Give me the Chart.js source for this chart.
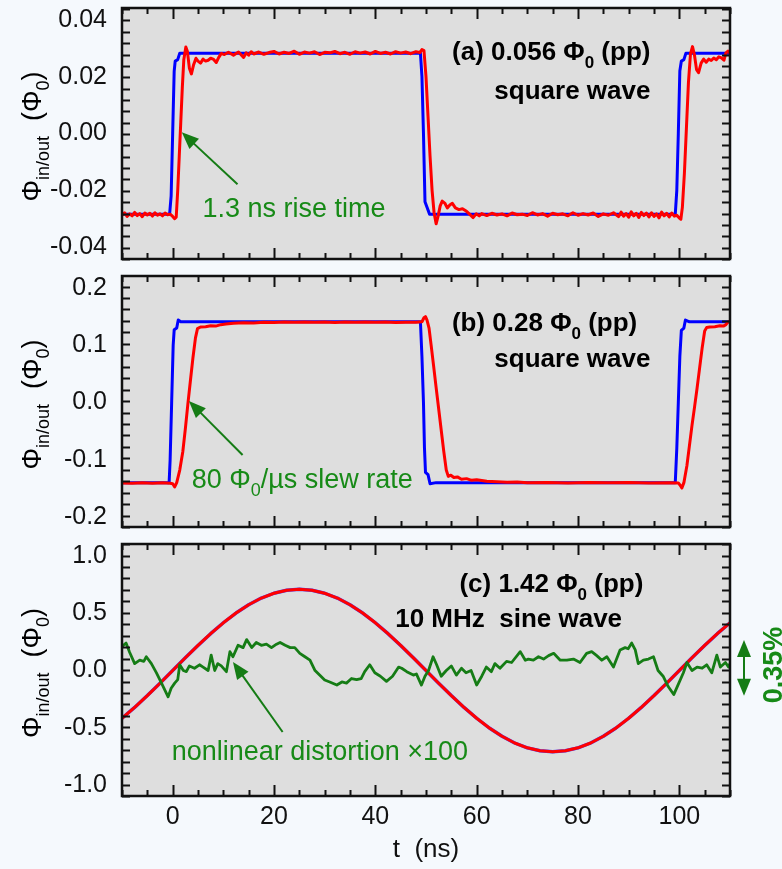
<!DOCTYPE html>
<html>
<head>
<meta charset="utf-8">
<script src="https://cdn.jsdelivr.net/npm/chart.js@4.4.1/dist/chart.umd.min.js"></script>
<style>
  body { margin: 0; background: #f5f9fd; width: 782px; height: 869px; overflow: hidden; }
  .panel { position: absolute; left: 0; }
</style>
</head>
<body>
<div class="panel" style="top:0"><canvas id="ca" width="782" height="268"></canvas></div>
<div class="panel" style="top:268px"><canvas id="cb" width="782" height="267"></canvas></div>
<div class="panel" style="top:535px"><canvas id="cc" width="782" height="334"></canvas></div>
<script>
// shared x axis (time, ns)
const xTicks = [0, 20, 40, 60, 80, 100];

// ---- panel (a): 0.056 Phi0 pp square wave, [t ns, flux Phi0]
const yTicksA = [-0.04, -0.02, 0.00, 0.02, 0.04];
const blueA = [
  [-10, -0.0284], [-0.6, -0.0284], [-0.3, -0.022], [0.0, 0.0], [0.3, 0.022], [0.5, 0.0255],
  [1.0, 0.026], [1.4, 0.0283], [10, 0.0283], [48.9, 0.0283], [49.2, 0.020], [49.5, 0.0],
  [49.8, -0.024], [50.2, -0.026], [50.7, -0.0284], [60, -0.0284], [99.2, -0.0284], [99.5, -0.02],
  [99.8, 0.0], [100.1, 0.022], [100.4, 0.0255], [100.9, 0.026], [101.3, 0.0283], [110, 0.0283]
];
const redA = [
  [-10, -0.0288], [-9.5, -0.0279], [-9, -0.0292], [-8.5, -0.0283], [-8, -0.0290], [-7.5, -0.0278],
  [-7, -0.0289], [-6.5, -0.0282], [-6, -0.0293], [-5.5, -0.0280], [-5, -0.0287], [-4.5, -0.0281],
  [-4, -0.0291], [-3.5, -0.0279], [-3, -0.0288], [-2.5, -0.0283], [-2, -0.0290], [-1.5, -0.0280],
  [-1, -0.0286], [-0.5, -0.0284], [0, -0.0292], [0.4, -0.0300], [0.7, -0.0295], [1.0, -0.020],
  [1.3, -0.008], [1.6, 0.004], [1.9, 0.016], [2.2, 0.026], [2.6, 0.0305], [2.9, 0.029],
  [3.3, 0.023], [3.7, 0.021], [4.1, 0.024], [4.6, 0.0265], [5.0, 0.0255], [5.5, 0.0248],
  [6.0, 0.0262], [6.5, 0.0255], [7.0, 0.0258], [7.5, 0.0265], [8.0, 0.0262], [8.6, 0.0250],
  [9.1, 0.0268], [9.6, 0.0282], [10.2, 0.0278], [11, 0.0286], [12, 0.0276], [13, 0.0287],
  [14, 0.0268], [14.5, 0.0284], [15, 0.0276], [15.5, 0.0288], [16, 0.0280], [17, 0.0287],
  [18, 0.0279], [19, 0.0285], [20, 0.0289], [21, 0.0280], [22, 0.0286], [23, 0.0282],
  [24, 0.0290], [25, 0.0279], [26, 0.0287], [27, 0.0283], [28, 0.0288], [29, 0.0278],
  [30, 0.0286], [31, 0.0284], [32, 0.0289], [33, 0.0281], [34, 0.0286], [35, 0.0279],
  [36, 0.0288], [37, 0.0283], [38, 0.0287], [39, 0.0280], [40, 0.0289], [41, 0.0282],
  [42, 0.0286], [43, 0.0280], [44, 0.0288], [45, 0.0283], [46, 0.0287], [47, 0.0281],
  [48, 0.0288], [48.8, 0.0285], [49.2, 0.0296], [49.6, 0.0292], [50.0, 0.020], [50.4, 0.006],
  [50.8, -0.008], [51.2, -0.020], [51.6, -0.028], [52.0, -0.0318], [52.4, -0.029], [52.8, -0.0255],
  [53.2, -0.0238], [53.7, -0.0245], [54.2, -0.0262], [54.7, -0.0252], [55.2, -0.0246], [55.8, -0.0262],
  [56.5, -0.0268], [57.2, -0.0265], [58, -0.0274], [58.7, -0.0286], [59.3, -0.0296], [59.9, -0.0283],
  [60.5, -0.0290], [61, -0.0282], [62, -0.0289], [63, -0.0281], [64, -0.0287], [65, -0.0283],
  [66, -0.0290], [67, -0.0280], [68, -0.0286], [69, -0.0284], [70, -0.0289], [71, -0.0279],
  [72, -0.0287], [73, -0.0282], [74, -0.0291], [75, -0.0281], [76, -0.0286], [77, -0.0283],
  [78, -0.0290], [79, -0.0279], [80, -0.0288], [81, -0.0282], [82, -0.0287], [83, -0.0280],
  [84, -0.0292], [85, -0.0283], [86, -0.0288], [87, -0.0279], [88, -0.0293], [88.5, -0.0277],
  [89, -0.0291], [89.5, -0.0282], [90, -0.0295], [90.5, -0.0276], [91, -0.0290], [91.5, -0.0281],
  [92, -0.0296], [92.5, -0.0278], [93, -0.0289], [93.5, -0.0280], [94, -0.0294], [94.5, -0.0279],
  [95, -0.0292], [95.5, -0.0283], [96, -0.0297], [96.5, -0.0277], [97, -0.0290], [97.5, -0.0281],
  [98, -0.0294], [98.5, -0.0280], [99, -0.0291], [99.5, -0.0288], [100.0, -0.0298], [100.3, -0.0302],
  [100.6, -0.026], [101.0, -0.014], [101.4, 0.002], [101.8, 0.018], [102.2, 0.028], [102.6, 0.0306],
  [103.0, 0.0275], [103.4, 0.0225], [103.8, 0.0214], [104.3, 0.0248], [104.8, 0.0262], [105.3, 0.0251],
  [105.8, 0.0262], [106.3, 0.0257], [106.8, 0.0266], [107.3, 0.0260], [107.8, 0.0270], [108.3, 0.0266],
  [108.8, 0.0258], [109.2, 0.0284], [109.6, 0.0290], [110, 0.0283]
];

// ---- panel (b): 0.28 Phi0 pp square wave
const yTicksB = [-0.2, -0.1, 0.0, 0.1, 0.2];
const blueB = [
  [-10, -0.140], [-0.7, -0.140], [-0.5, -0.10], [-0.2, 0.0], [0.1, 0.10], [0.3, 0.127],
  [0.8, 0.130], [1.1, 0.144], [1.6, 0.141], [10, 0.141], [48.9, 0.141], [49.2, 0.08],
  [49.5, 0.0], [49.7, -0.08], [49.9, -0.122], [50.4, -0.126], [50.8, -0.142], [52, -0.140],
  [99.2, -0.140], [99.5, -0.08], [99.8, 0.0], [100.1, 0.08], [100.4, 0.126], [100.9, 0.130],
  [101.2, 0.144], [102, 0.141], [110, 0.141]
];
const redB = [
  [-10, -0.1405], [-8, -0.1412], [-6, -0.1400], [-4, -0.1410], [-2, -0.1403], [-0.5, -0.1410],
  [0.0, -0.1420], [0.4, -0.1475], [0.8, -0.1400], [1.4, -0.1180], [2.0, -0.0860], [2.5, -0.0460],
  [3.0, -0.0030], [3.5, 0.0380], [4.0, 0.0780], [4.5, 0.1130], [4.9, 0.1290], [5.5, 0.1320],
  [6.5, 0.1325], [7.5, 0.1340], [8.5, 0.1335], [9.5, 0.1360], [10.5, 0.1370], [12, 0.1385],
  [14, 0.1395], [16, 0.1390], [18, 0.1402], [20, 0.1398], [22, 0.1405], [24, 0.1400],
  [26, 0.1408], [28, 0.1400], [30, 0.1405], [32, 0.1398], [34, 0.1406], [36, 0.1401],
  [38, 0.1407], [40, 0.1400], [42, 0.1405], [44, 0.1399], [46, 0.1404], [48, 0.1402],
  [49.2, 0.1410], [49.6, 0.1480], [49.9, 0.1500], [50.2, 0.1440], [50.6, 0.1300], [51.0, 0.1010],
  [51.5, 0.0640], [52.0, 0.0260], [52.5, -0.0110], [53.0, -0.0480], [53.5, -0.0850], [54.0, -0.1180],
  [54.4, -0.1290], [54.9, -0.1270], [55.5, -0.1310], [56.2, -0.1300], [57, -0.1340], [58, -0.1330],
  [59, -0.1360], [60, -0.1350], [62, -0.1375], [64, -0.1385], [66, -0.1395], [68, -0.1390],
  [70, -0.1402], [74, -0.1398], [78, -0.1405], [82, -0.1399], [86, -0.1404], [90, -0.1398],
  [94, -0.1405], [98, -0.1400], [99.8, -0.1405], [100.2, -0.1450], [100.5, -0.1495], [100.9, -0.1400],
  [101.5, -0.1100], [102.0, -0.0750], [102.5, -0.0400], [103.0, -0.0080], [103.5, 0.0250], [104.0, 0.0600],
  [104.5, 0.0950], [105.0, 0.1250], [105.4, 0.1310], [106, 0.1320], [107, 0.1325], [108, 0.1340],
  [108.7, 0.1335], [109.2, 0.1360], [109.6, 0.1410], [110, 0.1405]
];

// ---- panel (c): 1.42 Phi0 pp, 10 MHz sine; distortion x100
const yTicksC = [-1.0, -0.5, 0.0, 0.5, 1.0];
const sineC = [
  [-10, -0.417], [-7.5, -0.322], [-5, -0.219], [-2.5, -0.111], [0, 0.0], [2.5, 0.111],
  [5, 0.219], [7.5, 0.322], [10, 0.417], [12.5, 0.502], [15, 0.574], [17.5, 0.633],
  [20, 0.675], [22.5, 0.701], [25, 0.710], [27.5, 0.701], [30, 0.675], [32.5, 0.633],
  [35, 0.574], [37.5, 0.502], [40, 0.417], [42.5, 0.322], [45, 0.219], [47.5, 0.111],
  [50, 0.0], [52.5, -0.111], [55, -0.219], [57.5, -0.322], [60, -0.417], [62.5, -0.502],
  [65, -0.574], [67.5, -0.633], [70, -0.675], [72.5, -0.701], [75, -0.710], [77.5, -0.701],
  [80, -0.675], [82.5, -0.633], [85, -0.574], [87.5, -0.502], [90, -0.417], [92.5, -0.322],
  [95, -0.219], [97.5, -0.111], [100, 0.0], [102.5, 0.111], [105, 0.219], [107.5, 0.322],
  [110, 0.417]
];
const distortC = [
  [-10, 0.21], [-9.2, 0.24], [-8.5, 0.16], [-7.5, 0.06], [-6.5, 0.09], [-5.7, 0.08],
  [-5.2, 0.12], [-4.2, 0.06], [-3.2, -0.02], [-2.2, -0.11], [-0.9, -0.23], [-0.3, -0.155],
  [0.4, -0.11], [1.0, -0.08], [1.4, 0.05], [2.1, 0.0], [2.7, -0.01], [3.3, 0.04],
  [4.3, 0.02], [5.3, 0.05], [6.0, 0.03], [7.0, 0.0], [7.6, 0.135], [8.3, 0.0],
  [8.9, 0.06], [9.6, 0.04], [10.6, -0.01], [11.3, 0.165], [11.9, 0.12], [12.9, 0.22],
  [13.9, 0.20], [14.6, 0.27], [15.6, 0.20], [16.5, 0.245], [17.5, 0.22], [18.5, 0.23],
  [19.5, 0.20], [20.5, 0.23], [21.2, 0.245], [22.2, 0.22], [23.2, 0.20], [24.1, 0.20],
  [25.1, 0.15], [26.1, 0.12], [27.1, 0.09], [28.1, 0.0], [29.0, -0.04], [30.0, -0.083],
  [31.0, -0.10], [32.4, -0.127], [33.4, -0.10], [34.3, -0.11], [35.3, -0.07], [36.3, -0.08],
  [37.2, -0.07], [37.9, -0.01], [38.9, 0.05], [39.9, -0.02], [41.0, -0.05], [42.2, -0.095],
  [43.4, -0.05], [44.6, 0.03], [45.2, 0.02], [46.2, -0.01], [47.5, -0.04], [48.1, -0.03],
  [49.1, -0.127], [49.8, -0.05], [50.5, 0.0], [51.4, 0.12], [52.1, 0.05], [53.0, -0.05],
  [54.0, 0.0], [55.0, 0.04], [56.0, -0.04], [57.0, 0.02], [57.9, -0.02], [58.9, 0.0],
  [60.0, -0.127], [61.0, -0.05], [61.9, 0.03], [62.9, -0.01], [63.6, 0.06], [64.6, 0.02],
  [65.9, 0.08], [66.9, 0.07], [68.6, 0.165], [69.6, 0.09], [70.2, 0.10], [71.2, 0.09],
  [72.2, 0.12], [73.2, 0.10], [74.2, 0.13], [75.2, 0.15], [76.5, 0.09], [77.8, 0.09],
  [79.1, 0.10], [80.4, 0.07], [81.7, 0.15], [82.7, 0.165], [83.7, 0.13], [84.7, 0.09],
  [85.7, 0.12], [87.0, 0.03], [88.3, 0.18], [89.3, 0.20], [89.9, 0.19], [90.6, 0.24],
  [91.3, 0.18], [91.9, 0.06], [92.9, 0.09], [93.9, 0.10], [94.9, 0.12], [95.8, 0.0],
  [96.8, -0.05], [97.8, -0.14], [98.9, -0.21], [99.9, -0.11], [100.8, -0.02], [101.5, 0.07],
  [102.5, 0.0], [103.5, 0.03], [104.5, 0.02], [105.4, 0.05], [106.4, -0.02], [107.4, 0.135],
  [108.1, 0.03], [109.1, 0.07], [109.7, 0.03], [110, 0.06]
];

const FONT = '"Liberation Sans", Arial, sans-serif';
const GREEN = '#178a17';
const LINE_GREEN = '#157c15';

const pts = arr => arr.map(([x, y]) => ({ x, y }));

// text with optional subscripts; y is the visual middle of the caps
function richText(ctx, parts, x, y, o) {
  const w8 = o.bold ? 'bold ' : '';
  const sub = Math.round(o.size * 0.65);
  const fontOf = p => w8 + (p.sub ? sub : o.size) + 'px ' + FONT;
  let w = 0;
  parts.forEach(p => { ctx.font = fontOf(p); w += ctx.measureText(p.t).width; });
  let cx = o.align === 'right' ? x - w : o.align === 'center' ? x - w / 2 : x;
  const base = y + o.size * 0.36;
  ctx.fillStyle = o.color || '#000';
  ctx.textAlign = 'left';
  ctx.textBaseline = 'alphabetic';
  parts.forEach(p => {
    ctx.font = fontOf(p);
    ctx.fillText(p.t, cx, p.sub ? base + o.size * 0.3 : base);
    cx += ctx.measureText(p.t).width;
  });
}

function arrow(ctx, x1, y1, x2, y2, color) {
  const a = Math.atan2(y2 - y1, x2 - x1), hl = 17, hw = 7;
  ctx.save();
  ctx.strokeStyle = color; ctx.fillStyle = color; ctx.lineWidth = 2;
  ctx.beginPath();
  ctx.moveTo(x1, y1);
  ctx.lineTo(x2 - Math.cos(a) * hl * 0.8, y2 - Math.sin(a) * hl * 0.8);
  ctx.stroke();
  ctx.beginPath();
  ctx.moveTo(x2, y2);
  ctx.lineTo(x2 - Math.cos(a) * hl + Math.sin(a) * hw, y2 - Math.sin(a) * hl - Math.cos(a) * hw);
  ctx.lineTo(x2 - Math.cos(a) * hl - Math.sin(a) * hw, y2 - Math.sin(a) * hl + Math.cos(a) * hw);
  ctx.closePath();
  ctx.fill();
  ctx.restore();
}

function px(chart, t, v) {
  return [chart.scales.x.getPixelForValue(t), chart.scales.y.getPixelForValue(v)];
}

const plotBg = {
  id: 'plotBg',
  beforeDraw(chart) {
    const { ctx, chartArea: a } = chart;
    ctx.save();
    ctx.fillStyle = '#dedede';
    ctx.fillRect(a.left, a.top, a.width, a.height);
    ctx.restore();
  }
};

// inward ticks on all four sides, frame, rotated y title
const frame = {
  id: 'frame',
  afterDraw(chart, args, opts) {
    const { ctx, chartArea: a, scales } = chart;
    ctx.save();
    ctx.strokeStyle = '#111';
    ctx.lineWidth = 2;
    ctx.beginPath();
    for (let t = -10; t <= 110.001; t += 5) {
      const x = Math.round(scales.x.getPixelForValue(t)) + 0.5;
      const L = Math.abs(t % 20) < 0.01 ? 11 : 6;
      ctx.moveTo(x, a.bottom); ctx.lineTo(x, a.bottom - L);
      ctx.moveTo(x, a.top); ctx.lineTo(x, a.top + L);
    }
    const n = Math.round((opts.yMax - opts.yMin) / opts.yMinor);
    for (let i = 0; i <= n; i++) {
      const v = opts.yMin + i * opts.yMinor;
      if (v < scales.y.min || v > scales.y.max) continue;
      const y = Math.round(scales.y.getPixelForValue(v)) + 0.5;
      const major = Math.abs(v / opts.yMajor - Math.round(v / opts.yMajor)) < 1e-6;
      const L = major ? 13 : 8;
      ctx.moveTo(a.left, y); ctx.lineTo(a.left + L, y);
      ctx.moveTo(a.right, y); ctx.lineTo(a.right - L, y);
    }
    ctx.stroke();
    ctx.lineWidth = 2.5;
    ctx.strokeRect(a.left, a.top, a.width, a.height);
    // y axis title
    ctx.translate(31, (a.top + a.bottom) / 2 + 3);
    ctx.rotate(-Math.PI / 2);
    richText(ctx, [{ t: 'Φ' }, { t: 'in/out', sub: true }, { t: '  (Φ' }, { t: '0', sub: true }, { t: ')' }],
      0, 0, { size: 27, align: 'center', color: '#000' });
    ctx.restore();
  }
};

function makePanel(id, datasets, o) {
  return new Chart(document.getElementById(id), {
    type: 'line',
    data: { datasets },
    options: {
      responsive: false,
      maintainAspectRatio: false,
      animation: false,
      events: [],
      layout: { padding: { left: 0, right: 52, top: o.padTop, bottom: o.padBottom } },
      elements: { point: { radius: 0 }, line: { tension: 0, borderJoinStyle: 'round', borderCapStyle: 'round' } },
      plugins: {
        legend: { display: false },
        tooltip: { enabled: false },
        frame: { yMin: o.yMin, yMax: o.yMax, yMinor: o.yMinor, yMajor: o.yMajor }
      },
      scales: {
        x: {
          type: 'linear', min: -10, max: 110,
          display: o.showX,
          grid: { display: false },
          border: { display: false },
          afterBuildTicks: s => { s.ticks = xTicks.map(v => ({ value: v })); },
          ticks: { color: '#111', font: { family: FONT, size: 25 }, padding: -2, maxRotation: 0, autoSkip: false, callback: v => String(v) },
          title: { display: true, text: 't  (ns)', color: '#111', font: { family: FONT, size: 26 }, padding: { top: 2, bottom: 4 } },
          afterFit: s => { s.height = o.showX ? 73 : 0; s.paddingLeft = 0; s.paddingRight = 0; }
        },
        y: {
          type: 'linear', min: o.yMin, max: o.yMax,
          grid: { display: false },
          border: { display: false },
          afterBuildTicks: s => { s.ticks = o.yTicks.map(v => ({ value: v })); },
          ticks: { color: '#111', font: { family: FONT, size: 25 }, padding: 7, autoSkip: false, callback: v => v.toFixed(o.dec) },
          afterFit: s => { s.width = 122; s.paddingTop = 0; s.paddingBottom = 0; }
        }
      }
    },
    plugins: [plotBg, frame, { id: 'notes', afterDraw: o.notes }]
  });
}

const line = (arr, color, w) => ({ data: pts(arr), borderColor: color, borderWidth: w, pointRadius: 0, fill: false });

makePanel('ca', [line(redA, '#ff0000', 3), line(blueA, '#0000ff', 3)], {
  yMin: -0.0442, yMax: 0.0442, yMinor: 0.004, yMajor: 0.02, yTicks: yTicksA, dec: 2,
  padTop: 8, padBottom: 9, showX: false,
  notes(chart) {
    const ctx = chart.ctx;
    let [x, y] = px(chart, 94.3, 0.0291);
    richText(ctx, [{ t: '(a) 0.056 Φ' }, { t: '0', sub: true }, { t: ' (pp)' }], x, y, { size: 26, bold: true, align: 'right' });
    [x, y] = px(chart, 94.3, 0.0154);
    richText(ctx, [{ t: 'square wave' }], x, y, { size: 26, bold: true, align: 'right' });
    [x, y] = px(chart, 5.9, -0.026);
    richText(ctx, [{ t: '1.3 ns rise time' }], x, y, { size: 27, color: GREEN });
    const [x1, y1] = px(chart, 12.8, -0.0179), [x2, y2] = px(chart, 1.8, 0.0004);
    arrow(ctx, x1, y1, x2, y2, LINE_GREEN);
  }
});

makePanel('cb', [line(redB, '#ff0000', 3), line(blueB, '#0000ff', 3)], {
  yMin: -0.2175, yMax: 0.2210, yMinor: 0.02, yMajor: 0.1, yTicks: yTicksB, dec: 1,
  padTop: 8, padBottom: 8, showX: false,
  notes(chart) {
    const ctx = chart.ctx;
    let [x, y] = px(chart, 91.7, 0.1406);
    richText(ctx, [{ t: '(b) 0.28 Φ' }, { t: '0', sub: true }, { t: ' (pp)' }], x, y, { size: 26, bold: true, align: 'right' });
    [x, y] = px(chart, 94.3, 0.0777);
    richText(ctx, [{ t: 'square wave' }], x, y, { size: 26, bold: true, align: 'right' });
    [x, y] = px(chart, 3.75, -0.132);
    richText(ctx, [{ t: '80 Φ' }, { t: '0', sub: true }, { t: '/µs slew rate' }], x, y, { size: 27, color: GREEN });
    const [x1, y1] = px(chart, 13.8, -0.0917), [x2, y2] = px(chart, 3.2, 0.0026);
    arrow(ctx, x1, y1, x2, y2, LINE_GREEN);
  }
});

makePanel('cc', [line(distortC, LINE_GREEN, 2.8), line(sineC, '#ff0000', 3), line(sineC, '#4040ff', 3.4)], {
  yMin: -1.096, yMax: 1.105, yMinor: 0.1, yMajor: 0.5, yTicks: yTicksC, dec: 1,
  padTop: 9, padBottom: 0, showX: true,
  notes(chart) {
    const ctx = chart.ctx;
    const a = chart.chartArea;
    let [x, y] = px(chart, 92.9, 0.764);
    richText(ctx, [{ t: '(c) 1.42 Φ' }, { t: '0', sub: true }, { t: ' (pp)' }], x, y, { size: 26, bold: true, align: 'right' });
    [x, y] = px(chart, 88.7, 0.459);
    richText(ctx, [{ t: '10 MHz  sine wave' }], x, y, { size: 26, bold: true, align: 'right' });
    [x, y] = px(chart, -0.2, -0.694);
    richText(ctx, [{ t: 'nonlinear distortion ×100' }], x, y, { size: 27, color: GREEN });
    const [x1, y1] = px(chart, 21.7, -0.537), [x2, y2] = px(chart, 11.9, 0.074);
    arrow(ctx, x1, y1, x2, y2, LINE_GREEN);
    // 0.35 % scale bar to the right of the plot
    const ax = a.right + 14;
    const yt = chart.scales.y.getPixelForValue(0.266), yb = chart.scales.y.getPixelForValue(-0.22);
    const ym = (yt + yb) / 2;
    arrow(ctx, ax, ym, ax, yt, LINE_GREEN);
    arrow(ctx, ax, ym, ax, yb, LINE_GREEN);
    ctx.save();
    ctx.translate(a.right + 42, chart.scales.y.getPixelForValue(0.048));
    ctx.rotate(-Math.PI / 2);
    richText(ctx, [{ t: '0.35%' }], 0, 0, { size: 27, bold: true, align: 'center', color: GREEN });
    ctx.restore();
  }
});
</script>
</body>
</html>
